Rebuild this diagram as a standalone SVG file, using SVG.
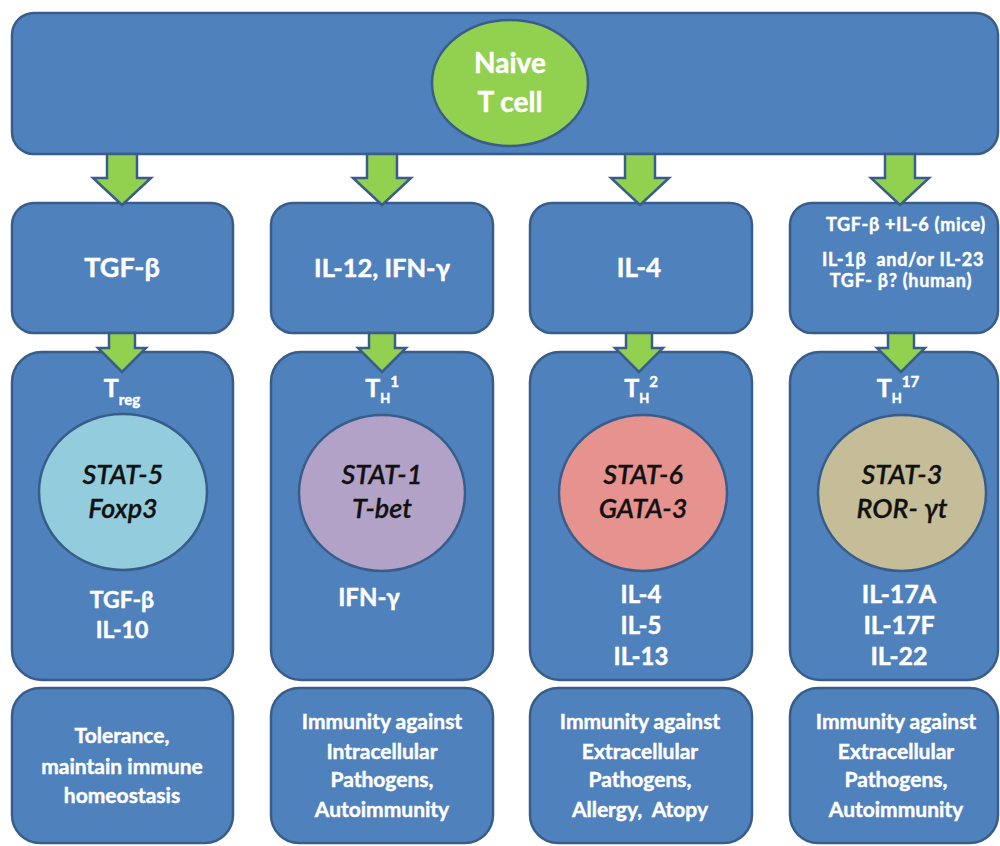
<svg xmlns="http://www.w3.org/2000/svg" width="1000" height="846" viewBox="0 0 1000 846">
<style>
.box{fill:#4f81bd;stroke:#385d8a;stroke-width:2.5}
.arr{fill:#92d050;stroke:#385d8a;stroke-width:2.5;stroke-linejoin:miter}
.w{fill:#ffffff;stroke:#ffffff;stroke-width:0.45;font-family:Lato,"Open Sans","Liberation Sans",sans-serif;font-weight:bold;text-anchor:middle}
.s{font-size:18px;letter-spacing:0.7px}
.k{fill:#111111;stroke:#111111;stroke-width:0.3;font-family:Lato,"Open Sans","Liberation Sans",sans-serif;font-style:italic;font-weight:600;text-anchor:middle;font-size:27px}
.circ{stroke:#385d8a;stroke-width:2.5}
</style>
<rect width="1000" height="846" fill="#ffffff"/>

<g id="top">
<rect class="box" x="12" y="13" width="986" height="141" rx="22"/>
</g>
<g id="naive">
<ellipse cx="510" cy="83" rx="78" ry="63" fill="#92d050" stroke="#385d8a" stroke-width="2.5"/>
<text class="w" x="510" y="73" font-size="28">Naive</text>
<text class="w" x="510" y="112" font-size="28">T cell</text>
</g>

<g id="sig-treg">
<rect class="box" x="12" y="203" width="221" height="130" rx="22"/>
<text class="w" x="122" y="277" font-size="27">TGF-β</text>
</g>
<g id="sig-th1">
<rect class="box" x="271" y="203" width="222" height="130" rx="22"/>
<text class="w" x="382" y="277" font-size="25.5">IL-12, IFN-γ</text>
</g>
<g id="sig-th2">
<rect class="box" x="530" y="203" width="222" height="130" rx="22"/>
<text class="w" x="639" y="277" font-size="26">IL-4</text>
</g>
<g id="sig-th17">
<rect class="box" x="790" y="203" width="208" height="130" rx="22"/>
<text class="w s" x="906" y="231">TGF-β +IL-6 (mice)</text>
<text class="w s" x="903" y="266">IL-1β&#160; and/or IL-23</text>
<text class="w s" x="901" y="287">TGF- β? (human)</text>
</g>

<g id="treg">
<rect class="box" x="12" y="352" width="221" height="328" rx="30"/>
<text class="w" x="122" y="397" font-size="25">T<tspan font-size="15" dy="8">reg</tspan></text>
<ellipse class="circ" cx="123" cy="492" rx="84" ry="78" fill="#93cddd"/>
<text class="k" x="123" y="484">STAT-5</text>
<text class="k" x="123" y="518">Foxp3</text>
<text class="w" x="122" y="608" font-size="23">TGF-β</text>
<text class="w" x="122" y="638" font-size="23">IL-10</text>
</g>
<g id="th1">
<rect class="box" x="271" y="352" width="222" height="328" rx="30"/>
<text class="w" x="382" y="397" font-size="25">T<tspan font-size="13" dy="6">H</tspan><tspan font-size="15" dy="-16">1</tspan></text>
<ellipse class="circ" cx="382" cy="493" rx="83" ry="78" fill="#b3a2c7"/>
<text class="k" x="382" y="484">STAT-1</text>
<text class="k" x="382" y="518">T-bet</text>
<text class="w" x="369" y="606" font-size="24">IFN-γ</text>
</g>
<g id="th2">
<rect class="box" x="530" y="352" width="222" height="328" rx="30"/>
<text class="w" x="641" y="397" font-size="25">T<tspan font-size="13" dy="6">H</tspan><tspan font-size="15" dy="-16">2</tspan></text>
<ellipse class="circ" cx="643" cy="493" rx="84" ry="78" fill="#e6928f"/>
<text class="k" x="643" y="484">STAT-6</text>
<text class="k" x="643" y="518">GATA-3</text>
<text class="w" x="641" y="603" font-size="24">IL-4</text>
<text class="w" x="641" y="634" font-size="24">IL-5</text>
<text class="w" x="641" y="665" font-size="24">IL-13</text>
</g>
<g id="th17">
<rect class="box" x="790" y="352" width="208" height="328" rx="30"/>
<text class="w" x="898" y="397" font-size="25">T<tspan font-size="13" dy="6">H</tspan><tspan font-size="15" dy="-16">17</tspan></text>
<ellipse class="circ" cx="902" cy="493" rx="84" ry="78" fill="#c4bd97"/>
<text class="k" x="902" y="484">STAT-3</text>
<text class="k" x="902" y="518">ROR- γt</text>
<text class="w" x="899" y="603" font-size="25">IL-17A</text>
<text class="w" x="899" y="634" font-size="25">IL-17F</text>
<text class="w" x="899" y="665" font-size="25">IL-22</text>
</g>

<g id="out-treg">
<rect class="box" x="12" y="688" width="221" height="155" rx="28"/>
<text class="w" x="122" y="743" font-size="21">Tolerance,</text>
<text class="w" x="122" y="774" font-size="21">maintain immune</text>
<text class="w" x="122" y="803" font-size="21">homeostasis</text>
</g>
<g id="out-th1">
<rect class="box" x="271" y="688" width="222" height="155" rx="28"/>
<text class="w" x="382" y="729" font-size="21">Immunity against</text>
<text class="w" x="382" y="759" font-size="21">Intracellular</text>
<text class="w" x="382" y="787" font-size="21">Pathogens,</text>
<text class="w" x="382" y="817" font-size="21">Autoimmunity</text>
</g>
<g id="out-th2">
<rect class="box" x="530" y="688" width="222" height="155" rx="28"/>
<text class="w" x="640" y="729" font-size="21">Immunity against</text>
<text class="w" x="640" y="759" font-size="21">Extracellular</text>
<text class="w" x="640" y="787" font-size="21">Pathogens,</text>
<text class="w" x="640" y="817" font-size="21">Allergy,&#160; Atopy</text>
</g>
<g id="out-th17">
<rect class="box" x="790" y="688" width="208" height="155" rx="28"/>
<text class="w" x="896" y="729" font-size="21">Immunity against</text>
<text class="w" x="896" y="759" font-size="21">Extracellular</text>
<text class="w" x="896" y="787" font-size="21">Pathogens,</text>
<text class="w" x="896" y="817" font-size="21">Autoimmunity</text>
</g>

<g id="connectors">
<path class="arr" d="M107 154 V178 H93 L122 205 L151 178 H137 V154 Z"/>
<path class="arr" d="M367 154 V178 H353 L382 205 L411 178 H397 V154 Z"/>
<path class="arr" d="M625 154 V178 H611 L640 205 L669 178 H655 V154 Z"/>
<path class="arr" d="M885 154 V178 H871 L900 205 L929 178 H915 V154 Z"/>
<path class="arr" d="M109 333 V348 H98 L122 372 L146 348 H135 V333 Z"/>
<path class="arr" d="M369 333 V348 H358 L382 372 L406 348 H395 V333 Z"/>
<path class="arr" d="M626 333 V348 H615 L639 372 L663 348 H652 V333 Z"/>
<path class="arr" d="M888 333 V348 H877 L901 372 L925 348 H914 V333 Z"/>
</g>
</svg>
